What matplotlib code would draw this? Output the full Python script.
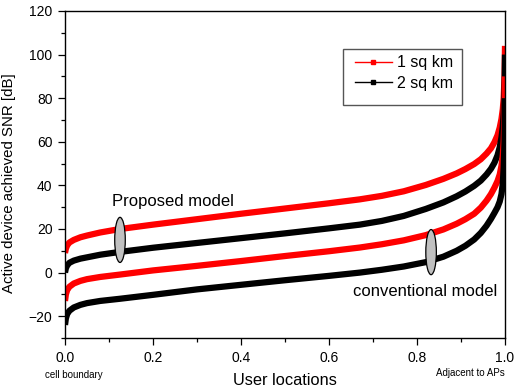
import matplotlib
matplotlib.use("Agg")
import matplotlib.pyplot as plt
from matplotlib.patches import Ellipse, Rectangle
from matplotlib.lines import Line2D
from matplotlib.ticker import MultipleLocator

plt.rcParams['font.family'] = ['Liberation Sans', 'DejaVu Sans']

x = [0, 0.002, 0.005, 0.01, 0.02, 0.035, 0.05, 0.08, 0.125, 0.2, 0.3, 0.4,
     0.5, 0.6, 0.67, 0.72, 0.77, 0.82, 0.86, 0.89, 0.91, 0.93, 0.945, 0.958,
     0.968, 0.976, 0.983, 0.988, 0.992, 0.995, 0.997, 0.999, 1.0]
proposed_1 = [9, 11, 12.5, 13.8, 15, 16.2, 17, 18.4, 20, 22, 24.5, 27,
              29.4, 31.8, 33.6, 35.2, 37.3, 40.2, 43, 45.5, 47.5, 49.8, 52, 54.6,
              57, 59.8, 63, 66.5, 70.5, 75, 80, 90, 104]
proposed_2 = [0, 2, 3.3, 4.5, 5.5, 6.4, 7, 8.2, 9.5, 11.4, 13.6, 15.8,
              18, 20.3, 22, 23.7, 26, 29.2, 32.2, 35, 37.2, 39.8, 42.2, 45,
              47.6, 50.4, 53.8, 57.5, 62, 67, 73, 84, 100]
conventional_1 = [-13, -10, -8, -6.5, -5, -3.8, -3, -2, -0.9, 1, 3.1, 5.3,
                  7.6, 9.8, 11.5, 13, 14.8, 17.2, 19.8, 22.4, 24.5, 27, 29.8, 33,
                  36, 39, 42, 45, 49, 54, 60, 72, 90]
conventional_2 = [-24, -21, -19, -17.5, -16, -14.8, -14, -13, -12, -10.2, -7.7, -5.6,
                  -3.5, -1.5, 0, 1.3, 2.8, 4.8, 7.3, 10, 12.3, 15.2, 18.2, 21.5,
                  24.6, 27.4, 30, 32.6, 36, 41, 48, 60, 80]
legend_labels = ["1 sq km", "2 sq km"]

W, H = 514, 392
fig = plt.figure(figsize=(5.14, 3.92), dpi=100)
ax = fig.add_axes([65 / W, 1 - 338 / H, 440 / W, 327 / H])

lw = 4.5
kw = dict(lw=lw, solid_capstyle='butt', solid_joinstyle='round')
ax.plot(x, proposed_1, color='red', **kw)
ax.plot(x, proposed_2, color='black', **kw)
ax.plot(x, conventional_1, color='red', **kw)
ax.plot(x, conventional_2, color='black', **kw)

ax.add_patch(Ellipse((0.125, 15), 0.024, 20.7, facecolor='#c0c0c0',
                     edgecolor='black', lw=0.9, zorder=5))
ax.add_patch(Ellipse((0.832, 9.4), 0.024, 20.7, facecolor='#c0c0c0',
                     edgecolor='black', lw=0.9, zorder=5))

ax.text(0.106, 30.5, "Proposed model", fontsize=12, va='baseline', ha='left')
ax.text(0.655, -10.6, "conventional model", fontsize=12, va='baseline', ha='left')

ax.set_xlim(0, 1.0)
ax.set_ylim(-30, 120)
ax.xaxis.set_minor_locator(MultipleLocator(0.1))
ax.yaxis.set_minor_locator(MultipleLocator(10))
ax.set_yticks([-20, 0, 20, 40, 60, 80, 100, 120])
ax.set_xticks([0, 0.2, 0.4, 0.6, 0.8, 1.0])
ax.set_xticklabels(["0.0", "0.2", "0.4", "0.6", "0.8", "1.0"])
ax.tick_params(which='major', direction='out', length=5, width=0.9,
               labelsize=10, pad=4.0)
ax.tick_params(which='minor', direction='out', length=3, width=0.9)
for s in ax.spines.values():
    s.set_linewidth(1.0)

ax.set_ylabel("Active device achieved SNR [dB]", fontsize=10.8)
ax.yaxis.set_label_coords((16 - 65) / 440, 1 - (183.5 - 11) / 327)
ax.set_xlabel("User locations", fontsize=11.8, labelpad=6.2)

fig.text(74 / W, 1 - 375 / H, "cell boundary", fontsize=7.0, ha='center', va='center')
fig.text(470 / W, 1 - 373 / H, "Adjacent to APs", fontsize=7.0, ha='center', va='center')

fig.add_artist(Rectangle((343 / W, 1 - 105 / H), 119 / W, 56 / H,
                         transform=fig.transFigure, facecolor='white',
                         edgecolor='#555555', lw=1.0, zorder=3))
handles = [Line2D([0], [0], color='red', lw=1.0, marker='s', markersize=3.5),
           Line2D([0], [0], color='black', lw=1.0, marker='s', markersize=3.5)]
leg = fig.legend(handles, legend_labels, loc='upper left',
                 bbox_to_anchor=(355 / W, 1 - 55.5 / H),
                 bbox_transform=fig.transFigure, fontsize=11.5,
                 frameon=False, handlelength=2.3, borderpad=0,
                 labelspacing=0.34, handletextpad=0.35, borderaxespad=0)
leg.set_zorder(4)

fig.savefig("out.png", dpi=100)
